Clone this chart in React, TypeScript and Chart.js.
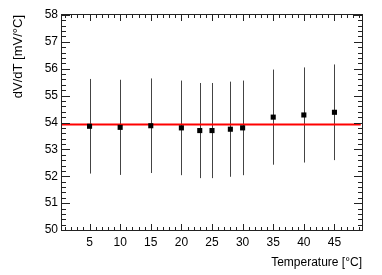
import React, { useEffect, useRef } from "react";
import { Chart, registerables } from "chart.js";

Chart.register(...registerables);

const temperatures = [5, 10, 15, 20, 23, 25, 28, 30, 35, 40, 45];
const slopes = [53.86, 53.82, 53.88, 53.80, 53.70, 53.70, 53.75, 53.80, 54.20, 54.28, 54.38];
const slopeErrors = [1.76, 1.77, 1.76, 1.76, 1.77, 1.77, 1.77, 1.76, 1.77, 1.77, 1.78];
const fitValue = 53.93;
const fitRange = [0.5, 49.3];
const xRange = [0.5, 49.5];
const yRange = [50, 58];
const xTickLabels = [5, 10, 15, 20, 25, 30, 35, 40, 45];
const yTickLabels = [50, 51, 52, 53, 54, 55, 56, 57, 58];
const xTitle = "Temperature [°C]";
const yTitle = "dV/dT [mV/°C]";

const FONT = "'Liberation Sans', Arial, sans-serif";

const rootStyle = {
  id: "rootStyle",
  beforeDatasetsDraw(chart: any) {
    const { ctx } = chart;
    const xs = chart.scales.x;
    const ys = chart.scales.y;
    ctx.save();
    ctx.strokeStyle = "#444";
    ctx.lineWidth = 1;
    temperatures.forEach((t, i) => {
      const px = Math.round(xs.getPixelForValue(t)) + 0.5;
      const top = ys.getPixelForValue(slopes[i] + slopeErrors[i]);
      const bot = ys.getPixelForValue(slopes[i] - slopeErrors[i]);
      ctx.beginPath();
      ctx.moveTo(px, top);
      ctx.lineTo(px, bot);
      ctx.stroke();
    });
    ctx.restore();
  },
  afterDraw(chart: any) {
    const { ctx, chartArea: a } = chart;
    const xs = chart.scales.x;
    const ys = chart.scales.y;
    ctx.save();
    ctx.strokeStyle = "#222";
    ctx.lineWidth = 1;
    ctx.strokeRect(a.left - 0.5, a.top - 0.5, a.right - a.left + 1, a.bottom - a.top + 1);
    ctx.beginPath();
    // x ticks: minor every 1, major every 5
    for (let v = Math.ceil(xRange[0]); v <= xRange[1]; v++) {
      const px = Math.round(xs.getPixelForValue(v)) + 0.5;
      const len = v % 5 === 0 ? 6 : 3;
      ctx.moveTo(px, a.bottom);
      ctx.lineTo(px, a.bottom - len);
      ctx.moveTo(px, a.top);
      ctx.lineTo(px, a.top + len);
    }
    // y ticks: minor every 0.2, major every 1
    for (let k = 0; k <= (yRange[1] - yRange[0]) * 5; k++) {
      const v = yRange[0] + k * 0.2;
      const py = Math.round(ys.getPixelForValue(v)) + 0.5;
      const len = k % 5 === 0 ? 8 : 4;
      ctx.moveTo(a.left, py);
      ctx.lineTo(a.left + len, py);
      ctx.moveTo(a.right, py);
      ctx.lineTo(a.right - len, py);
    }
    ctx.stroke();
    ctx.restore();
  },
};

export default function App() {
  const ref = useRef<HTMLCanvasElement>(null);
  useEffect(() => {
    document.body.style.margin = "0";
    const chart = new Chart(ref.current!, {
      type: "scatter",
      data: {
        datasets: [
          {
            label: "fit",
            type: "line",
            data: fitRange.map((x) => ({ x, y: fitValue })),
            borderColor: "#ff0000",
            borderWidth: 2,
            pointRadius: 0,
            order: 1,
          } as any,
          {
            label: "data",
            data: temperatures.map((t, i) => ({ x: t, y: slopes[i] })),
            backgroundColor: "#000",
            borderColor: "#000",
            borderWidth: 0,
            pointStyle: "rect",
            pointRadius: 3.6,
            order: 0,
          },
        ],
      },
      options: {
        animation: false,
        responsive: false,
        devicePixelRatio: 1,
        layout: { padding: { top: 15, right: 20, left: 0, bottom: 0 } },
        plugins: { legend: { display: false }, tooltip: { enabled: false } },
        scales: {
          x: {
            type: "linear",
            min: xRange[0],
            max: xRange[1],
            grid: { display: false, drawTicks: false },
            border: { display: false },
            afterBuildTicks: (s: any) => {
              s.ticks = xTickLabels.map((v) => ({ value: v }));
            },
            afterFit: (s: any) => {
              s.height = 45;
            },
            ticks: {
              padding: 5,
              color: "#000",
              font: { family: FONT, size: 12 },
              maxRotation: 0,
              autoSkip: false,
            },
            title: {
              display: true,
              text: xTitle,
              align: "end",
              color: "#000",
              font: { family: FONT, size: 12 },
              padding: { top: 0, bottom: 5 },
            },
          },
          y: {
            type: "linear",
            min: yRange[0],
            max: yRange[1],
            grid: { display: false, drawTicks: false },
            border: { display: false },
            afterBuildTicks: (s: any) => {
              s.ticks = yTickLabels.map((v) => ({ value: v }));
            },
            afterFit: (s: any) => {
              s.width = 62;
            },
            ticks: {
              padding: 4,
              color: "#000",
              font: { family: FONT, size: 12 },
              autoSkip: false,
            },
            title: {
              display: true,
              text: yTitle,
              align: "end",
              color: "#000",
              font: { family: FONT, size: 13 },
              padding: { top: 11, bottom: 0 },
            },
          },
        },
      },
      plugins: [rootStyle],
    });
    return () => chart.destroy();
  }, []);
  return <canvas ref={ref} width={382} height={275} style={{ display: "block", width: 382, height: 275 }} />;
}
